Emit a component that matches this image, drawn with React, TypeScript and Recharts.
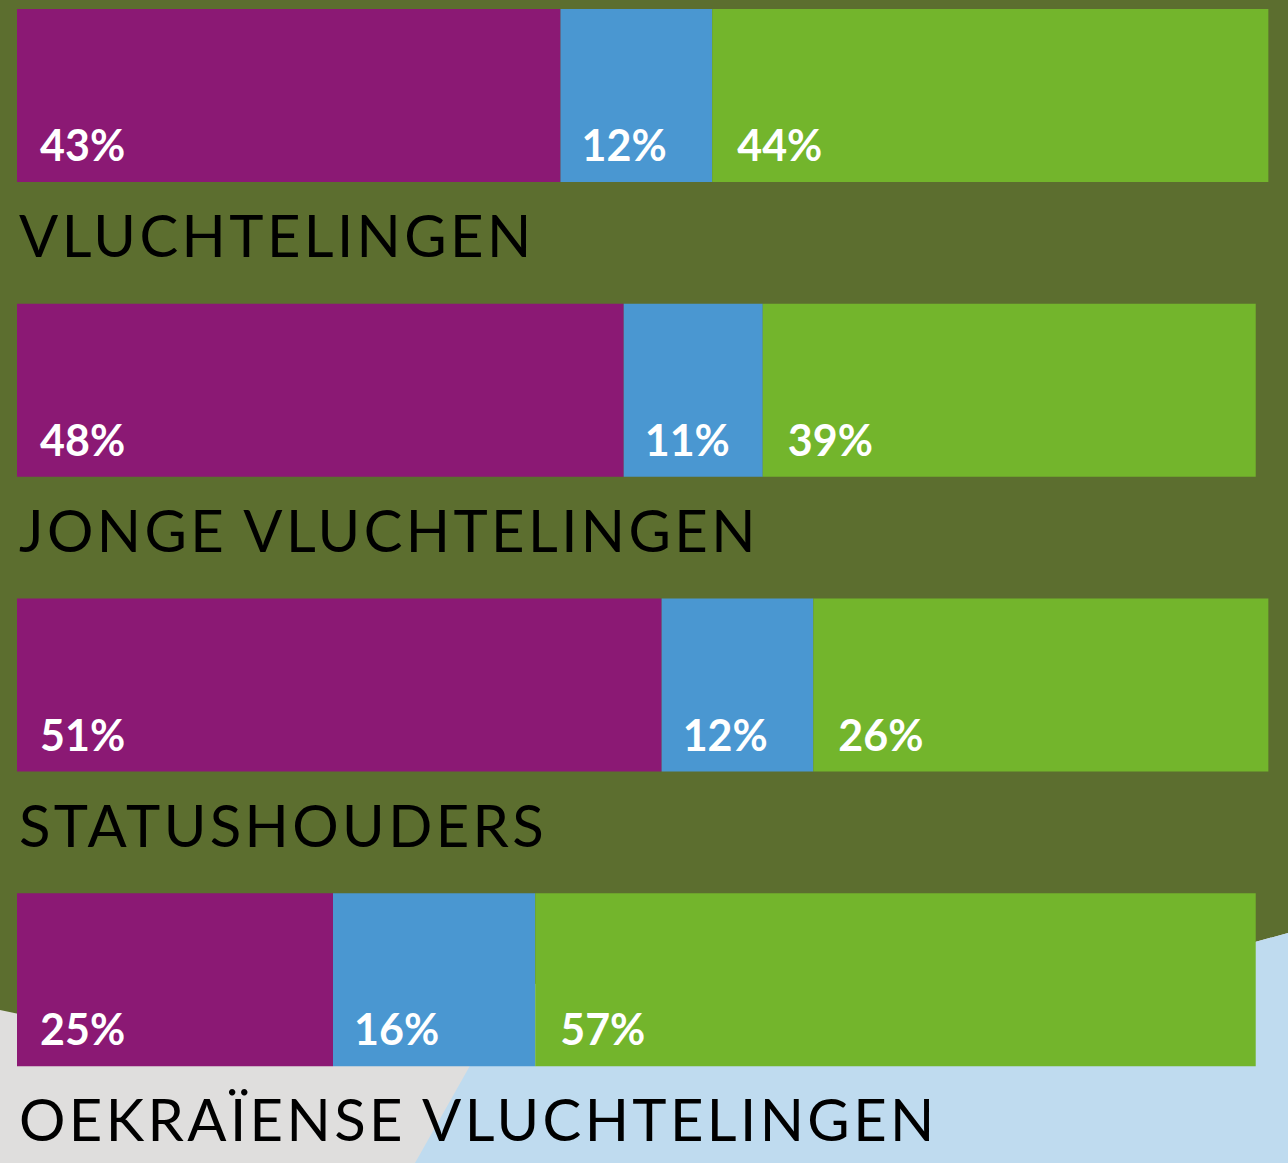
import React from "react";
import { BarChart, Bar, XAxis, YAxis, LabelList } from "recharts";

const categories = [
  "VLUCHTELINGEN",
  "JONGE VLUCHTELINGEN",
  "STATUSHOUDERS",
  "OEKRAÏENSE VLUCHTELINGEN",
];
const seriesA = [43, 48, 51, 25];
const seriesB = [12, 11, 12, 16];
const seriesC = [44, 39, 36, 57];
const labelsA = ["43%", "48%", "51%", "25%"];
const labelsB = ["12%", "11%", "12%", "16%"];
const labelsC = ["44%", "39%", "26%", "57%"];

const data = categories.map((name, i) => ({
  name,
  a: seriesA[i],
  b: seriesB[i],
  c: seriesC[i],
  la: labelsA[i],
  lb: labelsB[i],
  lc: labelsC[i],
}));

const COLORS = {
  olive: "#5c6e2f",
  purple: "#8b1974",
  blue: "#4a97d1",
  green: "#73b52c",
  gray: "#dfdedd",
  lightBlue: "#bfdbef",
};

function box(props: any) {
  const vb = props.viewBox || {};
  const x = props.x ?? vb.x;
  const y = props.y ?? vb.y;
  const width = props.width ?? vb.width;
  const height = props.height ?? vb.height;
  return { x: Number(x), y: Number(y), width: Number(width), height: Number(height) };
}

const makePctLabel = (dx: number) => (props: any) => {
  const { x, y, height } = box(props);
  return (
    <text
      x={x + dx}
      y={y + height - 21}
      fill="#ffffff"
      fontFamily="Lato, sans-serif"
      fontWeight={700}
      fontSize={43}
    >
      {props.value}
    </text>
  );
};

const PctLabelA = makePctLabel(23);
const PctLabelB = makePctLabel(21);
const PctLabelC = makePctLabel(25);

const TitleLabel = (props: any) => {
  const { x, y, height } = box(props);
  return (
    <text
      x={x + 2}
      y={y + height + 75}
      fill="#000000"
      fontFamily="Lato, sans-serif"
      fontWeight={400}
      fontSize={58}
      letterSpacing={3.4}
    >
      {props.value}
    </text>
  );
};

const Background = () => (
  <svg
    width={1288}
    height={1163}
    style={{ position: "absolute", left: 0, top: 0 }}
  >
    <rect x={0} y={0} width={1288} height={1163} fill={COLORS.olive} />
    <polygon
      points="0,1010 19,1014 1255,942 1288,933 1288,1163 0,1163"
      fill={COLORS.gray}
    />
    <polygon
      points="515,986 1255,942 1288,933 1288,1163 415,1163"
      fill={COLORS.lightBlue}
    />
  </svg>
);

export default function App() {
  return (
    <div
      style={{
        position: "absolute",
        left: 0,
        top: 0,
        width: 1288,
        height: 1163,
        overflow: "hidden",
      }}
    >
      <Background />
      <div style={{ position: "absolute", left: 0, top: -52 }}>
        <BarChart
          width={1288}
          height={1259}
          data={data}
          layout="vertical"
          margin={{ top: 0, right: 7, bottom: 80, left: 17 }}
          barSize={173}
        >
          <XAxis type="number" domain={[0, 100]} hide />
          <YAxis type="category" dataKey="name" hide width={0} />
          <Bar dataKey="a" stackId="s" fill={COLORS.purple} isAnimationActive={false}>
            <LabelList dataKey="la" content={PctLabelA} />
            <LabelList dataKey="name" content={TitleLabel} />
          </Bar>
          <Bar dataKey="b" stackId="s" fill={COLORS.blue} isAnimationActive={false}>
            <LabelList dataKey="lb" content={PctLabelB} />
          </Bar>
          <Bar dataKey="c" stackId="s" fill={COLORS.green} isAnimationActive={false}>
            <LabelList dataKey="lc" content={PctLabelC} />
          </Bar>
        </BarChart>
      </div>
    </div>
  );
}
